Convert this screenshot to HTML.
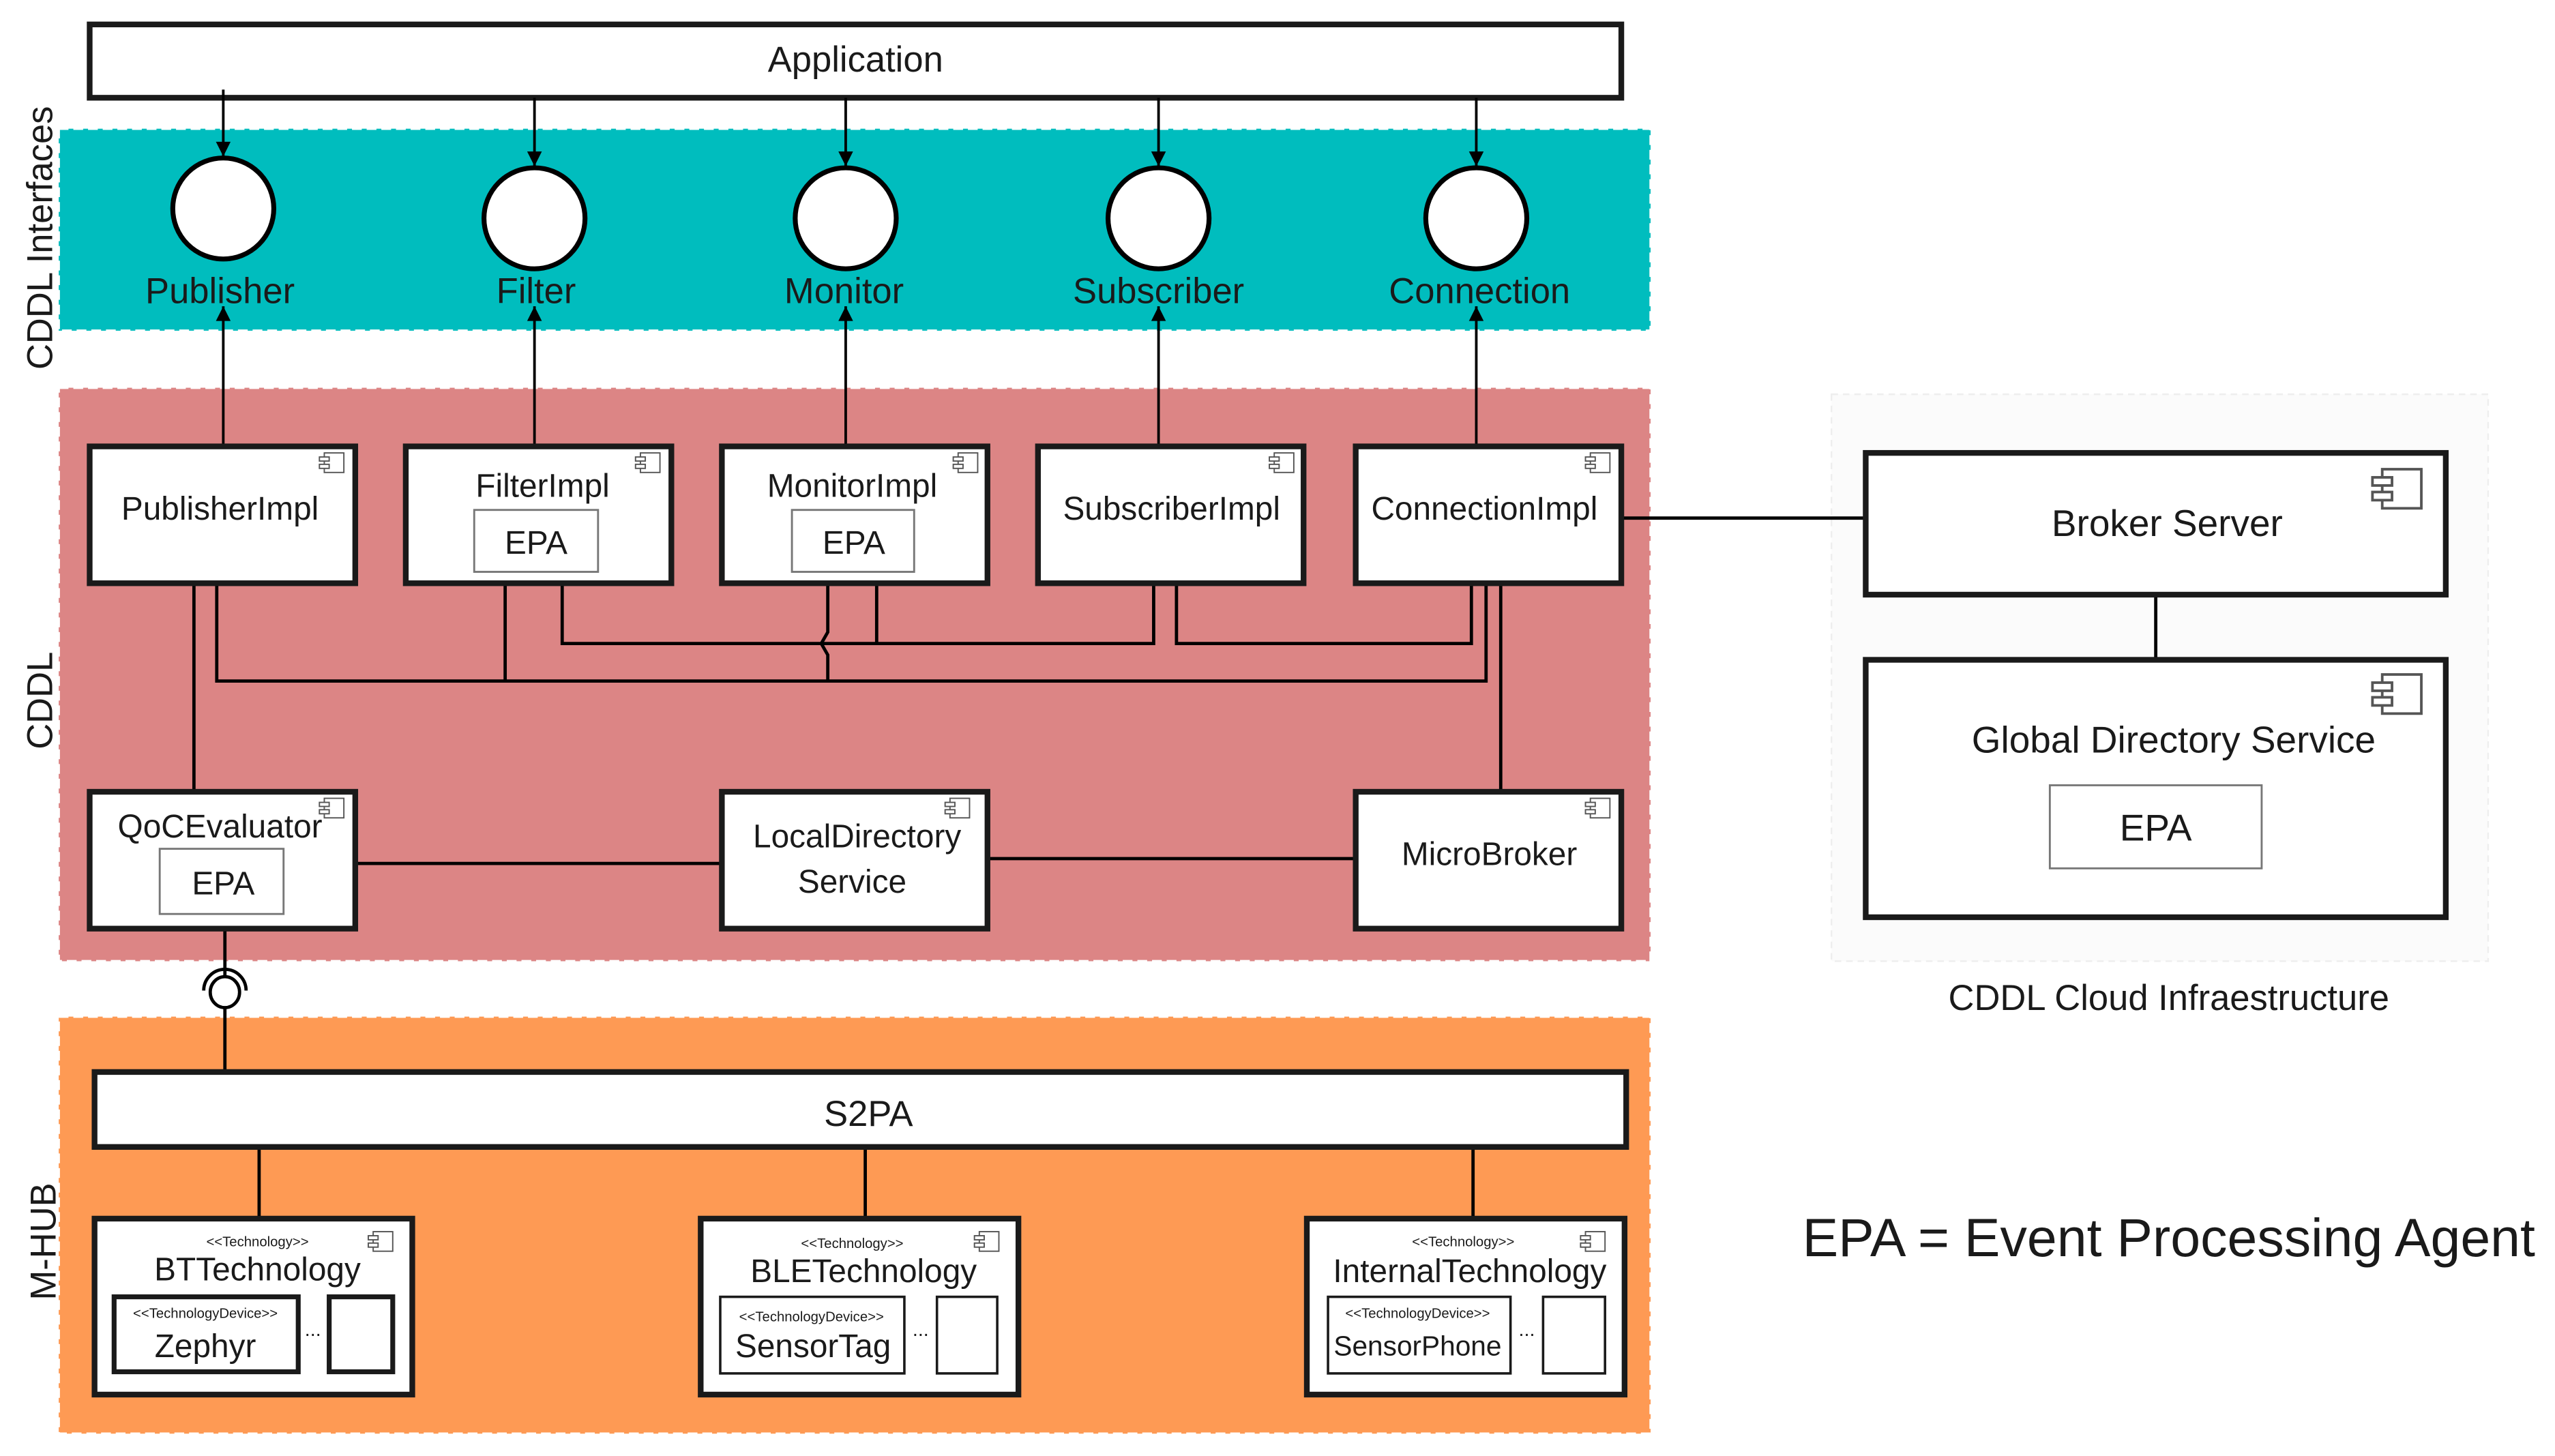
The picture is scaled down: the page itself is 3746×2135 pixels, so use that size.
<!DOCTYPE html>
<html><head><meta charset="utf-8"><style>
html,body{margin:0;padding:0;background:#fff}
svg{display:block}
text{font-family:"Liberation Sans",sans-serif;fill:#1a1a1a}
</style></head><body>
<svg width="3746" height="2135" viewBox="0 0 1568 893.7" xmlns="http://www.w3.org/2000/svg">
<defs>
<marker id="ar" viewBox="0 0 10 10" refX="10" refY="5" markerWidth="14" markerHeight="9" markerUnits="userSpaceOnUse" orient="auto">
<path d="M0,0 L10,5 L0,10 z" fill="#000"/></marker>
<g id="ci"><rect x="0" y="0" width="12" height="12" fill="#fff" stroke="#555" stroke-width="0.8"/><rect x="-3" y="2.5" width="6" height="2.5" fill="#fff" stroke="#555" stroke-width="0.8"/><rect x="-3" y="7" width="6" height="2.5" fill="#fff" stroke="#555" stroke-width="0.8"/></g>
</defs>
<rect width="1568" height="893.7" fill="#fff"/>
<!-- bands -->
<rect x="36" y="79" width="977" height="124" fill="#00bdbe" stroke="#fff" stroke-width="1.5" stroke-dasharray="6,3"/>
<rect x="36" y="238" width="977" height="352" fill="#dc8585" stroke="#fff" stroke-width="1.5" stroke-dasharray="6,3"/>
<rect x="36" y="624" width="977" height="256" fill="#fe9a54" stroke="#fff" stroke-width="1.5" stroke-dasharray="6,3"/>
<rect x="1124" y="242" width="403" height="348" fill="#fbfbfb" stroke="#eee" stroke-width="1" stroke-dasharray="4,3"/>
<!-- side labels -->
<text transform="translate(32,146) rotate(-90)" font-size="22" text-anchor="middle">CDDL Interfaces</text>
<text transform="translate(32,430) rotate(-90)" font-size="22" text-anchor="middle">CDDL</text>
<text transform="translate(34,762) rotate(-90)" font-size="22" text-anchor="middle">M-HUB</text>
<!-- Application -->
<rect x="55" y="15" width="940" height="45" fill="#fff" stroke="#1a1a1a" stroke-width="3.5"/>
<text x="525" y="44" font-size="22" text-anchor="middle">Application</text>
<!-- arrows -->
<g stroke="#000" stroke-width="1.6" fill="none">
<line x1="137" y1="55" x2="137" y2="96" marker-end="url(#ar)"/>
<line x1="328" y1="60" x2="328" y2="102" marker-end="url(#ar)"/>
<line x1="519" y1="60" x2="519" y2="102" marker-end="url(#ar)"/>
<line x1="711" y1="60" x2="711" y2="102" marker-end="url(#ar)"/>
<line x1="906" y1="60" x2="906" y2="102" marker-end="url(#ar)"/>
<line x1="137" y1="273" x2="137" y2="188" marker-end="url(#ar)"/>
<line x1="328" y1="273" x2="328" y2="188" marker-end="url(#ar)"/>
<line x1="519" y1="273" x2="519" y2="188" marker-end="url(#ar)"/>
<line x1="711" y1="273" x2="711" y2="188" marker-end="url(#ar)"/>
<line x1="906" y1="273" x2="906" y2="188" marker-end="url(#ar)"/>
</g>
<!-- interface circles -->
<g fill="#fff" stroke="#000" stroke-width="3">
<ellipse cx="137" cy="128" rx="31" ry="31"/>
<ellipse cx="328" cy="134" rx="31" ry="31"/>
<ellipse cx="519" cy="134" rx="31" ry="31"/>
<ellipse cx="711" cy="134" rx="31" ry="31"/>
<ellipse cx="906" cy="134" rx="31" ry="31"/>
</g>
<g font-size="22" text-anchor="middle">
<text x="135" y="186">Publisher</text>
<text x="329" y="186">Filter</text>
<text x="518" y="186">Monitor</text>
<text x="711" y="186">Subscriber</text>
<text x="908" y="186">Connection</text>
</g>
<!-- wiring -->
<g stroke="#000" stroke-width="2" fill="none">
<line x1="119" y1="358" x2="119" y2="485"/>
<polyline points="133,358 133,418 912,418 912,358"/>
<line x1="310" y1="358" x2="310" y2="418"/>
<polyline points="345,358 345,395 708,395 708,358"/>
<polyline points="508,358 508,388 504,395 508,402 508,418"/>
<line x1="538" y1="358" x2="538" y2="395"/>
<polyline points="722,358 722,395 903,395 903,358"/>
<line x1="921" y1="358" x2="921" y2="485"/>
<line x1="995" y1="318" x2="1144" y2="318"/>
<line x1="1323" y1="365" x2="1323" y2="404"/>
<line x1="218" y1="530" x2="443" y2="530"/>
<line x1="606" y1="527" x2="831" y2="527"/>
<line x1="138" y1="570" x2="138" y2="600"/>
<line x1="138" y1="618" x2="138" y2="658"/>
<line x1="159" y1="704" x2="159" y2="747"/>
<line x1="531" y1="704" x2="531" y2="747"/>
<line x1="904" y1="704" x2="904" y2="747"/>
<path d="M125,608 A13,13 0 0 1 151,608"/>
</g>
<ellipse cx="138" cy="609" rx="9" ry="9.5" fill="#fff" stroke="#000" stroke-width="2"/>
<!-- boxes -->
<g fill="#fff" stroke="#1a1a1a" stroke-width="3.5">
<rect x="55" y="274" width="163" height="84"/>
<rect x="249" y="274" width="163" height="84"/>
<rect x="443" y="274" width="163" height="84"/>
<rect x="637" y="274" width="163" height="84"/>
<rect x="832" y="274" width="163" height="84"/>
<rect x="55" y="486" width="163" height="84"/>
<rect x="443" y="486" width="163" height="84"/>
<rect x="832" y="486" width="163" height="84"/>
<rect x="1145" y="278" width="356" height="87"/>
<rect x="1145" y="405" width="356" height="158"/>
<rect x="58" y="658" width="940" height="46"/>
<rect x="58" y="748" width="195" height="108"/>
<rect x="430" y="748" width="195" height="108"/>
<rect x="802" y="748" width="195" height="108"/>
</g>
<g fill="#fff" stroke="#777" stroke-width="1.2">
<rect x="291" y="313" width="76" height="38"/>
<rect x="486" y="313" width="75" height="38"/>
<rect x="98" y="521" width="76" height="40"/>
<rect x="1258" y="482" width="130" height="51"/>
</g>
<g fill="#fff" stroke="#1a1a1a">
<rect x="70" y="796" width="113" height="46" stroke-width="3"/>
<rect x="202" y="796" width="39" height="46" stroke-width="3"/>
<rect x="442" y="796" width="113" height="47" stroke-width="1.5"/>
<rect x="575" y="796" width="37" height="47" stroke-width="1.5"/>
<rect x="815" y="796" width="112" height="47" stroke-width="1.5"/>
<rect x="947" y="796" width="38" height="47" stroke-width="1.5"/>
</g>
<!-- component icons -->
<use href="#ci" x="199" y="278"/><use href="#ci" x="393" y="278"/><use href="#ci" x="588" y="278"/>
<use href="#ci" x="782" y="278"/><use href="#ci" x="976" y="278"/>
<use href="#ci" x="199" y="490"/><use href="#ci" x="583" y="490"/><use href="#ci" x="976" y="490"/>
<use href="#ci" x="229" y="756"/><use href="#ci" x="601" y="756"/><use href="#ci" x="973" y="756"/>
<g transform="translate(1462,288) scale(2)"><use href="#ci"/></g>
<g transform="translate(1462,414) scale(2)"><use href="#ci"/></g>
<!-- texts -->
<g font-size="20" text-anchor="middle">
<text x="135" y="319">PublisherImpl</text>
<text x="333" y="305">FilterImpl</text>
<text x="329" y="340">EPA</text>
<text x="523" y="305">MonitorImpl</text>
<text x="524" y="340">EPA</text>
<text x="719" y="319">SubscriberImpl</text>
<text x="911" y="319">ConnectionImpl</text>
<text x="135" y="514">QoCEvaluator</text>
<text x="137" y="549">EPA</text>
<text x="526" y="520">LocalDirectory</text>
<text x="523" y="548">Service</text>
<text x="914" y="531">MicroBroker</text>
<text x="533" y="691" font-size="22">S2PA</text>
<text x="1330" y="329" font-size="23">Broker Server</text>
<text x="1334" y="462" font-size="23">Global Directory Service</text>
<text x="1323" y="516" font-size="23">EPA</text>
<text x="1331" y="620" font-size="22">CDDL Cloud Infraestructure</text>
<text x="1331" y="771" font-size="33">EPA = Event Processing Agent</text>
<text x="158" y="786">BTTechnology</text>
<text x="530" y="787">BLETechnology</text>
<text x="902" y="787">InternalTechnology</text>
<text x="126" y="833">Zephyr</text>
<text x="499" y="833">SensorTag</text>
<text x="870" y="832" font-size="17">SensorPhone</text>
</g>
<g font-size="8.5" text-anchor="middle">
<text x="158" y="765">&lt;&lt;Technology&gt;&gt;</text>
<text x="523" y="766">&lt;&lt;Technology&gt;&gt;</text>
<text x="898" y="765">&lt;&lt;Technology&gt;&gt;</text>
<text x="126" y="809">&lt;&lt;TechnologyDevice&gt;&gt;</text>
<text x="498" y="811">&lt;&lt;TechnologyDevice&gt;&gt;</text>
<text x="870" y="809">&lt;&lt;TechnologyDevice&gt;&gt;</text>
</g>
<g font-size="12" text-anchor="middle"><text x="192" y="820">...</text><text x="565" y="820">...</text><text x="937" y="820">...</text></g>
</svg>
</body></html>
